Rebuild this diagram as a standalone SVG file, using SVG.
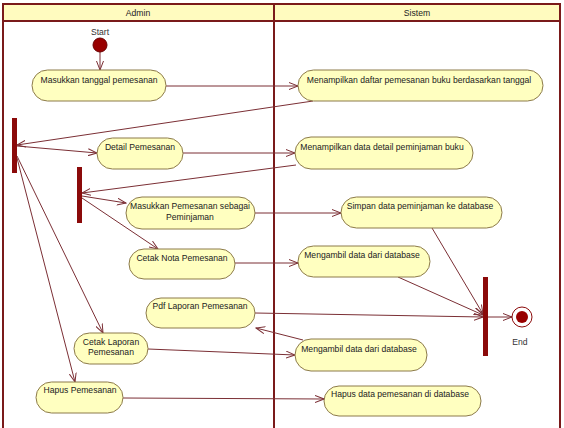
<svg xmlns="http://www.w3.org/2000/svg" width="564" height="428" viewBox="0 0 564 428">
  <style>
    text { font-family: "Liberation Sans", Arial, sans-serif; font-size: 8.6px; fill: #222; text-anchor: middle; }
    .lane { fill: #ffffff; stroke: #7a1a1a; stroke-width: 2; }
    .head { fill: #fffbbf; stroke: #7a1a1a; stroke-width: 2; }
    .act { fill: #ffffc0; stroke: #8c7a4a; stroke-width: 1; }
    .bar { fill: #8b0a0a; }
    .edge { fill: none; stroke: #7b2f35; stroke-width: 1; marker-end: url(#arrow); }
    .lbl { fill: #333; }
  </style>
  <defs>
    <marker id="arrow" markerWidth="10" markerHeight="8" refX="9" refY="4" orient="auto" markerUnits="userSpaceOnUse">
      <path d="M0,0.5 L9,4 L0,7.5" fill="none" stroke="#7b2f35" stroke-width="1"/>
    </marker>
  </defs>

  <rect width="564" height="428" fill="#ffffff"/>

  <!-- swimlanes -->
  <g id="lanes">
    <rect class="lane" x="3" y="4" width="557" height="430"/>
    <rect class="head" x="3" y="4" width="557" height="17"/>
    <line x1="274" y1="4" x2="274" y2="430" stroke="#7a1a1a" stroke-width="2"/>
    <text x="138" y="16">Admin</text>
    <text x="417" y="16">Sistem</text>
  </g>

  <!-- connectors -->
  <g id="connectors">
    <line class="edge" x1="100" y1="52" x2="100" y2="70"/>
    <line class="edge" x1="166" y1="86" x2="298" y2="86"/>
    <line class="edge" x1="313" y1="101" x2="17" y2="145"/>
    <line class="edge" x1="17" y1="146" x2="97" y2="153"/>
    <line class="edge" x1="183" y1="153" x2="295" y2="153"/>
    <line class="edge" x1="296" y1="165" x2="82" y2="193"/>
    <line class="edge" x1="82" y1="196" x2="126" y2="203"/>
    <line class="edge" x1="255" y1="213" x2="341" y2="213"/>
    <line class="edge" x1="82" y1="198" x2="158" y2="249"/>
    <line class="edge" x1="235" y1="263" x2="298" y2="263"/>
    <line class="edge" x1="432" y1="228" x2="483" y2="314"/>
    <line class="edge" x1="398" y1="277" x2="483" y2="315"/>
    <line class="edge" x1="255" y1="313" x2="483" y2="317"/>
    <line class="edge" x1="488" y1="317" x2="512" y2="317"/>
    <line class="edge" x1="303" y1="340" x2="256" y2="328"/>
    <line class="edge" x1="17" y1="156" x2="103" y2="333"/>
    <line class="edge" x1="148" y1="349" x2="295" y2="355"/>
    <line class="edge" x1="17" y1="158" x2="75" y2="382"/>
    <line class="edge" x1="123" y1="398" x2="324" y2="399"/>
  </g>

  <!-- start / end -->
  <g id="start">
    <text class="lbl" x="100" y="35">Start</text>
    <circle cx="100" cy="45" r="7" fill="#990000" stroke="#6a0000" stroke-width="1"/>
  </g>
  <g id="end">
    <circle cx="522" cy="317" r="10" fill="#ffffff" stroke="#8b0a0a" stroke-width="1"/>
    <circle cx="522" cy="317" r="6" fill="#990000"/>
    <text class="lbl" x="520" y="345">End</text>
  </g>

  <!-- fork / join bars -->
  <g id="fork1"><rect class="bar" x="12" y="118" width="5" height="55"/></g>
  <g id="fork2"><rect class="bar" x="77" y="167" width="5" height="56"/></g>
  <g id="join1"><rect class="bar" x="483" y="277" width="5" height="79"/></g>

  <!-- Admin actions -->
  <g id="masukkan-tanggal">
    <rect class="act" x="32" y="70" width="134" height="31" rx="15.5"/>
    <text x="99" y="83">Masukkan tanggal pemesanan</text>
  </g>
  <g id="detail-pemesanan">
    <rect class="act" x="97" y="138" width="86" height="31" rx="15.5"/>
    <text x="140" y="150">Detail Pemesanan</text>
  </g>
  <g id="masukkan-pemesanan">
    <rect class="act" x="126" y="197" width="129" height="32" rx="16"/>
    <text x="190" y="209">Masukkan Pemesanan sebagai</text>
    <text x="190" y="220">Peminjaman</text>
  </g>
  <g id="cetak-nota">
    <rect class="act" x="129" y="249" width="106" height="30" rx="15"/>
    <text x="182" y="261">Cetak Nota Pemesanan</text>
  </g>
  <g id="pdf-laporan">
    <rect class="act" x="146" y="298" width="109" height="30" rx="15"/>
    <text x="200" y="309">Pdf Laporan Pemesanan</text>
  </g>
  <g id="cetak-laporan">
    <rect class="act" x="74" y="333" width="74" height="31" rx="15.5"/>
    <text x="111" y="345">Cetak Laporan</text>
    <text x="111" y="355">Pemesanan</text>
  </g>
  <g id="hapus-pemesanan">
    <rect class="act" x="36" y="382" width="87" height="31" rx="15.5"/>
    <text x="80" y="393">Hapus Pemesanan</text>
  </g>

  <!-- Sistem actions -->
  <g id="tampil-daftar">
    <rect class="act" x="298" y="70" width="245" height="31" rx="15.5"/>
    <text x="419" y="83">Menampilkan daftar pemesanan buku berdasarkan tanggal</text>
  </g>
  <g id="tampil-detail">
    <rect class="act" x="295" y="137" width="178" height="32" rx="16"/>
    <text x="382" y="150">Menampilkan data detail peminjaman buku</text>
  </g>
  <g id="simpan-data">
    <rect class="act" x="341" y="197" width="161" height="31" rx="15.5"/>
    <text x="420" y="209">Simpan data peminjaman ke database</text>
  </g>
  <g id="ambil-data-1">
    <rect class="act" x="298" y="246" width="132" height="31" rx="15.5"/>
    <text x="362" y="258">Mengambil data dari database</text>
  </g>
  <g id="ambil-data-2">
    <rect class="act" x="295" y="339" width="132" height="32" rx="16"/>
    <text x="359" y="352">Mengambil data dari database</text>
  </g>
  <g id="hapus-data">
    <rect class="act" x="324" y="386" width="157" height="30" rx="15"/>
    <text x="400" y="397">Hapus data pemesanan di database</text>
  </g>
</svg>
